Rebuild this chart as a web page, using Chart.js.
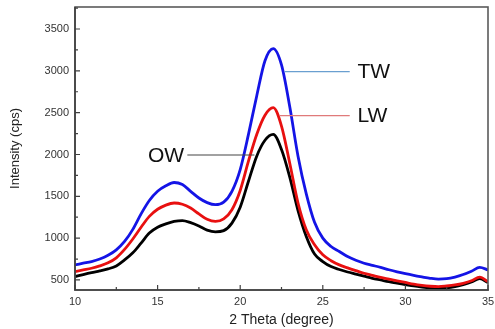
<!DOCTYPE html>
<html>
<head>
<meta charset="utf-8">
<script src="https://cdn.jsdelivr.net/npm/chart.js@4.4.1/dist/chart.umd.min.js"></script>
<style>
html,body{margin:0;padding:0;background:#fff;}
#wrap{width:495px;height:329px;position:relative;}
</style>
</head>
<body>
<div id="wrap"><canvas id="c" width="495" height="329"></canvas></div>
<script>
// 2 Theta (degree)
const theta = [10,10.5,11,11.5,12,12.5,13,13.5,14,14.5,15,15.5,16,16.5,17,17.5,18,18.5,19,19.5,20,20.5,21,21.5,22,22.5,23,23.5,24,24.5,25,25.5,26,26.5,27,27.5,28,28.5,29,29.5,30,30.5,31,31.5,32,32.5,33,33.5,34,34.5,35];
// Intensity (cps)
const tw = [680,700,720,750,795,860,960,1105,1290,1450,1560,1625,1665,1640,1560,1480,1425,1400,1430,1560,1820,2240,2700,3120,3265,3070,2570,1980,1530,1190,1000,900,840,780,735,700,675,650,622,597,575,555,537,520,510,515,535,565,605,650,620];
const lw = [600,620,640,668,705,765,865,990,1130,1260,1345,1395,1420,1405,1360,1290,1225,1200,1230,1340,1570,1920,2240,2470,2560,2340,1895,1420,1100,920,800,730,680,645,612,580,555,530,510,490,470,450,435,425,420,428,440,460,490,535,480];
const ow = [540,565,588,608,632,668,740,825,940,1060,1130,1170,1200,1210,1185,1145,1095,1075,1090,1180,1370,1680,1980,2170,2240,2060,1730,1330,1020,810,720,660,625,595,570,545,520,500,480,462,445,428,415,405,400,405,420,445,475,515,470];
const seriesNames = ['TW','LW','OW'];
const xTicks = [10,15,20,25,30,35];
const yTicks = [500,1000,1500,2000,2500,3000,3500];

const pts = arr => arr.map((v,i)=>({x:theta[i], y:v}));

// label annotations (data coordinates)
const labels = [
  {text:'TW', x1:22.68, x2:26.63, y:2990, color:'#6a9fd0', tx:27.1},
  {text:'LW', x1:22.38, x2:26.63, y:2464, color:'#e07a7a', tx:27.1},
  {text:'OW', x1:16.8, x2:20.86, y:1994, color:'#444444', tx:16.6, left:true}
];

const framePlugin = {
  id:'frame',
  afterDraw(chart){
    const ctx = chart.ctx;
    const a = chart.chartArea;
    const x = chart.scales.x, y = chart.scales.y;
    ctx.save();
    ctx.lineWidth = 1.6;
    ctx.strokeStyle = '#5a5a5a';
    ctx.strokeRect(a.left, a.top, a.right-a.left, a.bottom-a.top);
    ctx.strokeStyle = '#404040';
    ctx.beginPath();
    ctx.moveTo(a.left-0.8, a.bottom);
    ctx.lineTo(a.right+0.8, a.bottom);
    ctx.moveTo(a.left, a.bottom);
    ctx.lineTo(a.left, a.top);
    ctx.stroke();
    // inside ticks
    ctx.lineWidth = 1.2;
    ctx.beginPath();
    for (let v=10; v<=35.001; v+=2.5){
      const px = x.getPixelForValue(v);
      const len = (Math.abs(v%5)<1e-6)?5:3;
      ctx.moveTo(px, a.bottom); ctx.lineTo(px, a.bottom-len);
    }
    for (let v=500; v<=3750; v+=250){
      const py = y.getPixelForValue(v);
      const len = (v%500===0)?5:3;
      ctx.moveTo(a.left, py); ctx.lineTo(a.left+len, py);
    }
    ctx.stroke();
    // annotations
    ctx.font = '21px "Liberation Sans", Arial, sans-serif';
    ctx.textBaseline = 'middle';
    labels.forEach(l=>{
      const py = y.getPixelForValue(l.y);
      ctx.strokeStyle = l.color;
      ctx.lineWidth = 1.2;
      ctx.beginPath();
      ctx.moveTo(x.getPixelForValue(l.x1), py);
      ctx.lineTo(x.getPixelForValue(l.x2), py);
      ctx.stroke();
      ctx.fillStyle = '#111';
      ctx.textAlign = l.left ? 'right' : 'left';
      ctx.fillText(l.text, x.getPixelForValue(l.tx), py+1);
    });
    ctx.restore();
  }
};

function zeroPad(s){ s.paddingTop = 0; s.paddingBottom = 0; s.paddingLeft = 0; s.paddingRight = 0; }

const FONT = '"Liberation Sans", Arial, sans-serif';
new Chart(document.getElementById('c'), {
  type:'line',
  data:{
    datasets:[
      {label:seriesNames[0], data:pts(tw), borderColor:'#1414e6', borderWidth:2.8, pointRadius:0, cubicInterpolationMode:'monotone', fill:false},
      {label:seriesNames[1], data:pts(lw), borderColor:'#e81010', borderWidth:2.8, pointRadius:0, cubicInterpolationMode:'monotone', fill:false},
      {label:seriesNames[2], data:pts(ow), borderColor:'#000000', borderWidth:2.8, pointRadius:0, cubicInterpolationMode:'monotone', fill:false}
    ]
  },
  options:{
    responsive:false,
    animation:false,
    layout:{padding:{top:7,right:7,left:0,bottom:0}},
    plugins:{legend:{display:false}, tooltip:{enabled:false}},
    scales:{
      x:{
        type:'linear', min:10, max:35,
        afterBuildTicks(s){ s.ticks = xTicks.map(v=>({value:v})); },
        afterFit(s){ s.height = 39; zeroPad(s); },
        grid:{display:false, drawTicks:false},
        border:{display:false},
        ticks:{color:'#333', font:{size:11, family:FONT}, padding:5, maxRotation:0, callback:v=>String(v)},
        title:{display:true, text:'2 Theta (degree)', color:'#222', font:{size:14, family:FONT}, padding:{top:0,bottom:0}}
      },
      y:{
        type:'linear', min:380, max:3763,
        afterBuildTicks(s){ s.ticks = yTicks.map(v=>({value:v})); },
        afterFit(s){ s.width = 75; zeroPad(s); },
        grid:{display:false, drawTicks:false},
        border:{display:false},
        ticks:{color:'#333', font:{size:11, family:FONT}, padding:6, callback:v=>String(v)},
        title:{display:true, text:'Intensity (cps)', color:'#222', font:{size:13, family:FONT}, padding:{top:8,bottom:0}}
      }
    }
  },
  plugins:[framePlugin]
});
</script>
</body>
</html>
